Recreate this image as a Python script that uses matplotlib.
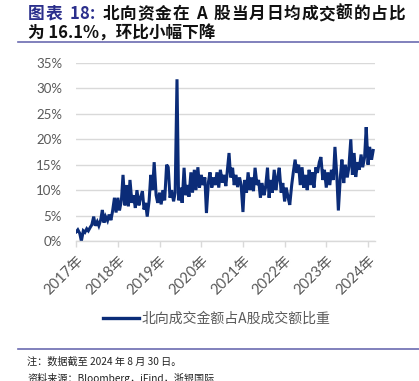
import matplotlib
matplotlib.use("Agg")
import matplotlib.pyplot as plt
import pandas as pd

plt.rcParams['font.family'] = ['Lato', 'Noto Sans CJK SC', 'DejaVu Sans']

# ---------------- data ----------------
start_date = "2017-07-01"
share_pct = [
    # block 1
    1.8, 2.2, 1.5, 0.0, 2.0, 1.7, 2.4, 2.0, 2.7, 3.2, 4.8, 3.0,
    3.8, 3.0, 4.2, 6.1, 3.6, 4.8, 4.0, 5.2, 4.1, 5.8, 8.5, 5.6,
    # block 2
    8.5, 6.0, 8.0, 13.0, 7.0, 11.0, 6.8, 12.0, 7.5, 9.0, 6.5, 10.0,
    7.0, 8.5, 9.8, 6.2, 7.5, 4.8, 8.0, 13.0, 10.0, 15.5, 9.0, 7.5,
    # block 3
    9.5, 7.2, 10.0, 8.0, 15.0, 14.5, 8.5, 10.0, 7.8, 9.5, 31.8, 8.0,
    10.5, 7.5, 14.4, 9.0, 11.0, 8.7, 13.5, 9.5, 14.0, 10.0, 14.5, 10.5,
    # block 4
    13.0, 11.0, 12.5, 5.5, 11.5, 13.5, 10.5, 12.5, 11.0, 13.5, 10.5, 14.0,
    11.5, 13.0, 10.8, 14.0, 17.3, 12.5, 14.4, 11.0, 13.0, 10.6, 12.5, 11.0,
    # block 5
    5.7, 12.0, 9.5, 13.5, 10.0, 12.5, 9.8, 14.4, 11.0, 12.0, 8.5, 11.4,
    9.0, 10.5, 14.4, 8.5, 12.0, 9.5, 14.0, 10.0, 12.5, 14.4, 9.5, 11.4,
    # block 6
    7.8, 10.5, 8.5, 7.1, 11.0, 13.5, 16.0, 13.4, 15.0, 11.0, 14.5, 10.5,
    13.0, 10.0, 14.0, 11.0, 13.5, 10.5, 14.5, 13.4, 15.5, 16.5, 12.0, 14.0,
    # block 7
    10.5, 13.5, 11.0, 14.0, 12.0, 18.5, 13.0, 6.0, 12.5, 16.0, 11.4, 15.0,
    12.5, 14.5, 20.0, 13.0, 17.3, 12.6, 15.5, 14.0, 17.0, 14.5, 16.5, 22.4,
    # block 8
    15.0, 18.5, 16.0, 17.8,
]
year_labels = ["2017年", "2018年", "2019年", "2020年", "2021年", "2022年", "2023年", "2024年"]
y_ticks = [0, 5, 10, 15, 20, 25, 30, 35]
series_name = "北向成交金额占A股成交额比重"
title_head = "图表 18:"
title_rest1 = " 北向资金在 A 股当月日均成交额的占比"
title_line2 = "为 16.1%，环比小幅下降"
note1 = "注：数据截至 2024 年 8 月 30 日。"
note2 = "资料来源：Bloomberg，iFind，浙银国际"

dates = pd.date_range(start_date, periods=len(share_pct), freq="SMS")
tick_dates = [pd.Timestamp(f"{lbl[:4]}-07-01") for lbl in year_labels]

# ---------------- figure ----------------
W, H = 419, 381
fig = plt.figure(figsize=(W / 100, H / 100), dpi=100)

def fx(px):
    return px / W

def fy(py):
    return 1 - py / H

ax = fig.add_axes([fx(76), fy(241), fx(375) - fx(76), fy(63) - fy(241)])
line_color = "#0b2c78"
ax.plot(dates, share_pct, color=line_color, lw=2.2, solid_joinstyle="miter")

ax.set_ylim(0, 35)
ax.set_yticks(y_ticks)
ax.set_yticklabels([f"{v}%" for v in y_ticks])
ax.set_xlim(pd.Timestamp(start_date) - pd.Timedelta(days=2), pd.Timestamp("2024-08-31"))
ax.set_xticks(tick_dates)
ax.set_xticklabels(year_labels, rotation=45, ha="right", rotation_mode="anchor")

ax.grid(axis="y", color="#d9d9d9", lw=1.0)
ax.set_axisbelow(True)
for s in ["left", "right", "top"]:
    ax.spines[s].set_visible(False)
ax.spines["bottom"].set_color("#d9d9d9")
ax.spines["bottom"].set_linewidth(1.0)
ax.tick_params(axis="y", length=0, pad=10, labelsize=9.5, labelcolor="#595959")
ax.tick_params(axis="x", length=4, color="#d9d9d9", width=1.0, pad=5, labelsize=10.5, labelcolor="#595959")

# legend
leg = fig.legend([ax.lines[0]], [series_name], loc="center", bbox_to_anchor=(fx(217), fy(319)),
                 frameon=False, handlelength=2.6, handletextpad=0.2,
                 prop={"family": ["Noto Sans CJK SC", "DejaVu Sans"], "size": 10})
for t in leg.get_texts():
    t.set_color("#595959")
for l in leg.get_lines():
    l.set_linewidth(2.4)

# title (line 1 is justified to the full width, like the report layout)
tfont = {"family": ["Noto Sans CJK SC", "DejaVu Sans"], "weight": "bold", "size": 12}
renderer = fig.canvas.get_renderer()

def text_w(s):
    t = fig.text(0, 0, s, **tfont)
    w = t.get_window_extent(renderer).width
    t.remove()
    return w

line1 = title_head + title_rest1
n_head = len(title_head)
x0, x1 = 28.0, 405.0
items = []
for i, ch in enumerate(line1):
    if ch == " ":
        continue
    left = text_w(line1[:i + 1]) - text_w(ch)
    items.append((i, ch, left, text_w(ch)))
natural_end = items[-1][2] + items[-1][3]
units = []
u = 0.0
for i, ch in enumerate(line1):
    if i > 0:
        u += 3.0 if line1[i - 1] == " " else 1.0
    units.append(u)
extra_per_unit = (x1 - x0 - natural_end) / units[-1]
for i, ch, left, w in items:
    color = "#2b2f8c" if i < n_head else "#111111"
    fig.text(fx(x0 + left + units[i] * extra_per_unit), fy(14), ch, color=color,
             va="center", ha="left", **tfont)
fig.text(fx(28), fy(33), title_line2, color="#111111", va="center", ha="left", **tfont)

# rules
rule_color = "#6b6bb0"
fig.add_artist(plt.Line2D([fx(18), 1.0], [fy(41.5), fy(41.5)], color=rule_color, lw=1.2))
fig.add_artist(plt.Line2D([fx(18), 1.0], [fy(349), fy(349)], color=rule_color, lw=1.2))

# notes
nfont = {"family": ["Noto Sans CJK SC", "DejaVu Sans"], "size": 7.3}
fig.text(fx(27), fy(362), note1, color="#222222", va="center", ha="left", **nfont)
fig.text(fx(27), fy(373), note2, color="#222222", va="top", ha="left", **nfont)

fig.savefig("out.png", dpi=100)
